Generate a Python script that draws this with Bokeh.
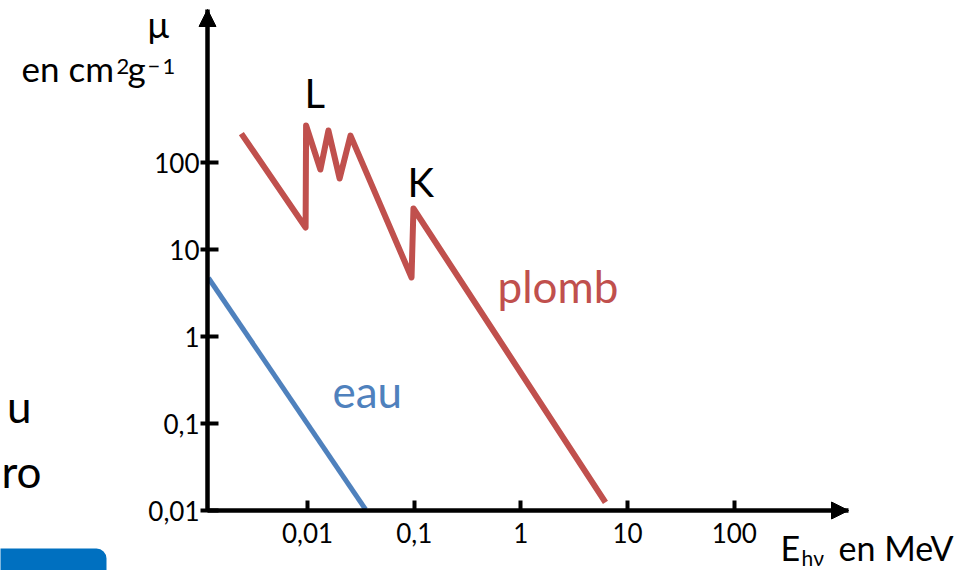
from bokeh.plotting import figure
from bokeh.models import Range1d, Label, Arrow, NormalHead, BoxAnnotation
from bokeh.embed import file_html
from bokeh.resources import INLINE

# ---- data ----
plomb_E = [0.0024, 0.0096, 0.0097, 0.0132, 0.0157, 0.0200, 0.0253, 0.0944, 0.0984, 6.2]
plomb_mu = [215, 17.9, 266, 83, 233, 65.5, 204, 4.77, 29.6, 0.0124]
eau_E = [0.00118, 0.035]
eau_mu = [4.7, 0.0103]

x_ticks = [0.01, 0.1, 1, 10, 100]
x_tick_labels = ["0,01", "0,1", "1", "10", "100"]
y_ticks = [0.01, 0.1, 1, 10, 100]
y_tick_labels = ["0,01", "0,1", "1", "10", "100"]

RED = "#C0504D"
BLUE = "#4F81BD"
FONT = "Lato"

# ---- pixel <-> data helpers for the layout ----
def px2x(px):
    return 10 ** (-2 + (px - 307) / 106.7)

def py2y(py):
    return 10 ** (-2 + (510 - py) / 87.0)

W, H = 968, 570
AX_LEFT, AX_RIGHT, AX_TOP, AX_BOTTOM = 207, 848, 9, 510

p = figure(width=W, height=H, output_backend="svg", toolbar_location=None,
           x_axis_type="log", y_axis_type="log",
           x_range=Range1d(px2x(0), px2x(W)),
           y_range=Range1d(py2y(H), py2y(0)),
           min_border_left=0, min_border_right=0,
           min_border_top=0, min_border_bottom=0)
p.outline_line_color = None
p.grid.visible = False
p.background_fill_color = "white"
p.border_fill_color = "white"

x0 = px2x(AX_LEFT)
y0 = py2y(AX_BOTTOM)
x1 = px2x(AX_RIGHT)
y1 = py2y(AX_TOP)

for ax in (p.xaxis[0], p.yaxis[0]):
    ax.axis_line_width = 4.5
    ax.axis_line_color = "black"
    ax.major_tick_line_width = 4
    ax.major_tick_line_color = "black"
    ax.minor_tick_line_color = None
    ax.major_label_text_font = FONT
    ax.major_label_text_font_size = "26px"
    ax.major_label_text_color = "black"

p.xaxis.fixed_location = y0
p.xaxis.bounds = (x0, x1)
p.xaxis.ticker = x_ticks
p.xaxis.major_label_overrides = dict(zip(x_ticks, x_tick_labels))
p.xaxis.major_tick_in = 10
p.xaxis.major_tick_out = 0
p.xaxis.major_label_standoff = 12

p.yaxis.fixed_location = x0
p.yaxis.bounds = (y0, y1)
p.yaxis.ticker = y_ticks
p.yaxis.major_label_overrides = dict(zip(y_ticks, y_tick_labels))
p.yaxis.major_tick_in = 11
p.yaxis.major_tick_out = 7
p.yaxis.major_label_standoff = 1

# arrow heads
p.add_layout(Arrow(end=NormalHead(size=17, fill_color="black", line_color="black"),
                   x_start=px2x(AX_RIGHT - 30), y_start=y0, x_end=x1, y_end=y0,
                   line_alpha=0))
p.add_layout(Arrow(end=NormalHead(size=17, fill_color="black", line_color="black"),
                   x_start=x0, y_start=py2y(AX_TOP + 30), x_end=x0, y_end=y1,
                   line_alpha=0))

# curves
p.line(plomb_E, plomb_mu, line_color=RED, line_width=6, line_join="round")
p.line(eau_E, eau_mu, line_color=BLUE, line_width=5, line_join="round")

def lab(text, px, py, size, color="black", align="left"):
    # py = wanted alphabetic baseline in canvas pixels
    p.add_layout(Label(x=px2x(px), y=py2y(py - 0.45 * size), text=text, text_font=FONT,
                       text_font_size=f"{size}px", text_color=color,
                       text_align=align, text_baseline="alphabetic"))

lab("μ", 147, 40, 36)
lab("en cm", 21, 83, 35)
lab("2", 116, 76, 22)
lab("g", 127, 83, 35)
lab("−", 147, 76, 22)
lab("1", 162, 76, 22)
lab("L", 304, 110, 40)
lab("K", 407, 199, 40)
lab("eau", 332, 410, 44, color=BLUE)
lab("plomb", 497, 305, 44, color=RED)
lab("E", 780, 562, 34)
lab("hν", 801, 566, 21)
lab("en MeV", 838, 562, 34)
lab("u", 31, 425, 44, align="right")
lab("ro", 1, 490, 44)

p.add_layout(BoxAnnotation(left=px2x(-20), right=px2x(106), bottom=py2y(600), top=py2y(548),
                           fill_color="#0070C0", fill_alpha=1, line_color=None,
                           border_radius=10))

open("out.html", "w").write(file_html(p, INLINE))
